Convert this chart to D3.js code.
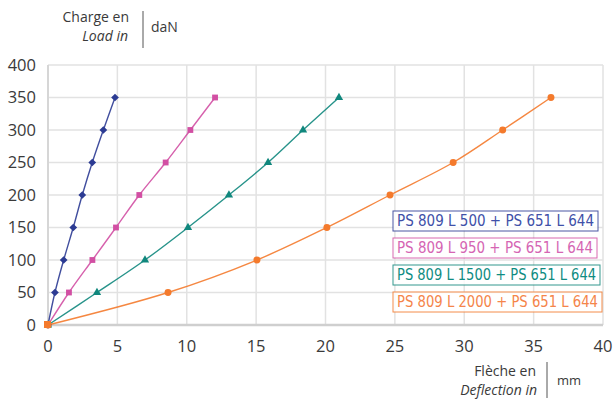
<!DOCTYPE html>
<html><head><meta charset="utf-8">
<script src="https://cdn.jsdelivr.net/npm/d3@7"></script>
<style>body{margin:0;background:#fff}svg{display:block}</style>
</head><body>
<svg id="c" width="615" height="399"></svg>
<script>
const loads = [0, 50, 100, 150, 200, 250, 300, 350];
const defl500  = [0, 0.50, 1.13, 1.82, 2.47, 3.19, 3.99, 4.83];
const defl950  = [0, 1.51, 3.20, 4.90, 6.58, 8.48, 10.26, 12.04];
const defl1500 = [0, 3.53, 6.99, 10.09, 13.04, 15.86, 18.38, 20.97];
const defl2000 = [0, 8.65, 15.06, 20.10, 24.65, 29.20, 32.77, 36.25];
const seriesNames = ["PS 809 L 500 + PS 651 L 644","PS 809 L 950 + PS 651 L 644","PS 809 L 1500 + PS 651 L 644","PS 809 L 2000 + PS 651 L 644"];
const xTicks = [0,5,10,15,20,25,30,35,40];
const yTicks = [0,50,100,150,200,250,300,350,400];

const colors = ["#2c3b93","#d24fa3","#10877d","#f47a2c"];
const textColors = ["#4050a8","#d565b3","#0f8c82","#f5854a"];
const symbols = [d3.symbolSquare, d3.symbolSquare, d3.symbolTriangle, d3.symbolCircle];
const symRot = [45, 0, 0, 0];
const symSizes = [30, 34, 30, 38];
const series = [defl500, defl950, defl1500, defl2000].map((xs,i)=>({name:seriesNames[i], pts: xs.map((x,j)=>({x, y:loads[j]}))}));

const svg = d3.select("#c");
const x = d3.scaleLinear().domain([0,40]).range([48,603]);
const y = d3.scaleLinear().domain([0,400]).range([325,65]);
const font = "'Open Sans', 'Noto Sans', sans-serif";

// grid
svg.append("g").selectAll("line").data(yTicks).join("line")
  .attr("x1",x(0)).attr("x2",x(40)).attr("y1",d=>y(d)).attr("y2",d=>y(d))
  .attr("stroke","#e2e2e2").attr("stroke-width",1.5);
svg.append("g").selectAll("line").data(xTicks).join("line")
  .attr("y1",y(0)).attr("y2",y(400)).attr("x1",d=>x(d)).attr("x2",d=>x(d))
  .attr("stroke","#e2e2e2").attr("stroke-width",1.5);
// axis lines
svg.append("line").attr("x1",x(0)).attr("x2",x(40)).attr("y1",y(0)).attr("y2",y(0)).attr("stroke","#cfcfcf").attr("stroke-width",2.5);
svg.append("line").attr("x1",x(0)).attr("x2",x(0)).attr("y1",y(0)).attr("y2",y(400)).attr("stroke","#d6d6d6").attr("stroke-width",2);

// tick labels
svg.append("g").selectAll("text").data(yTicks).join("text")
  .attr("x",36).attr("y",d=>y(d)).attr("dy","0.35em").attr("text-anchor","end")
  .attr("font-family",font).attr("font-size",16.5).attr("fill","#3a3a3a").text(d=>d);
svg.append("g").selectAll("text").data(xTicks).join("text")
  .attr("x",d=>x(d)).attr("y",346).attr("dy","0.35em").attr("text-anchor","middle")
  .attr("font-family",font).attr("font-size",16.5).attr("fill","#3a3a3a").text(d=>d);

// lines
const line = d3.line().x(d=>x(d.x)).y(d=>y(d.y)).curve(d3.curveCatmullRom);
series.forEach((s,i)=>{
  svg.append("path").attr("d",line(s.pts)).attr("fill","none")
    .attr("stroke",colors[i]).attr("stroke-width",1.4).attr("opacity",0.9);
});
series.forEach((s,i)=>{
  svg.append("g").selectAll("path").data(s.pts).join("path")
    .attr("transform",d=>`translate(${x(d.x)},${y(d.y)}) rotate(${symRot[i]})`)
    .attr("d",d3.symbol().type(symbols[i]).size(symSizes[i])())
    .attr("fill",colors[i]);
});
// origin marker (orange square)
svg.append("rect").attr("x",x(0)-4).attr("y",y(0)-4).attr("width",7).attr("height",7).attr("fill",colors[3]);

// legend
const legTops = [211, 238, 265, 292];
const legRights = [598, 597, 600, 602];
seriesNames.forEach((n,i)=>{
  const g = svg.append("g");
  g.append("rect").attr("x",393).attr("y",legTops[i]).attr("width",legRights[i]-393).attr("height",20)
    .attr("fill","#fff").attr("stroke",colors[i]).attr("stroke-width",1).attr("opacity",0.85);
  g.append("text").attr("x",397).attr("y",legTops[i]+10).attr("dy","0.36em")
    .attr("font-family","'Liberation Sans Narrow','DejaVu Sans Condensed',sans-serif").attr("font-size",15)
    .attr("textLength",legRights[i]-393-8).attr("lengthAdjust","spacingAndGlyphs")
    .attr("fill",textColors[i]).text(n);
});

// axis titles
const tf = "'Open Sans','Noto Sans',sans-serif";
svg.append("text").attr("x",129).attr("y",22).attr("text-anchor","end").attr("font-family",tf).attr("font-size",14).attr("fill","#3a3a3a").text("Charge en");
svg.append("text").attr("x",128).attr("y",41).attr("text-anchor","end").attr("font-family",tf).attr("font-style","italic").attr("font-size",14).attr("fill","#3a3a3a").text("Load in");
svg.append("line").attr("x1",143).attr("x2",143).attr("y1",11).attr("y2",48).attr("stroke","#555").attr("stroke-width",1);
svg.append("text").attr("x",151).attr("y",32).attr("font-family",tf).attr("font-size",14).attr("fill","#3a3a3a").text("daN");

svg.append("text").attr("x",536).attr("y",376).attr("text-anchor","end").attr("font-family",tf).attr("font-size",14).attr("fill","#3a3a3a").text("Flèche en");
svg.append("text").attr("x",537).attr("y",395).attr("text-anchor","end").attr("font-family",tf).attr("font-style","italic").attr("font-size",14).attr("fill","#3a3a3a").text("Deflection in");
svg.append("line").attr("x1",547).attr("x2",547).attr("y1",362).attr("y2",398).attr("stroke","#555").attr("stroke-width",1);
svg.append("text").attr("x",557).attr("y",385).attr("font-family",tf).attr("font-size",13).attr("fill","#3a3a3a").text("mm");
</script>
</body></html>
